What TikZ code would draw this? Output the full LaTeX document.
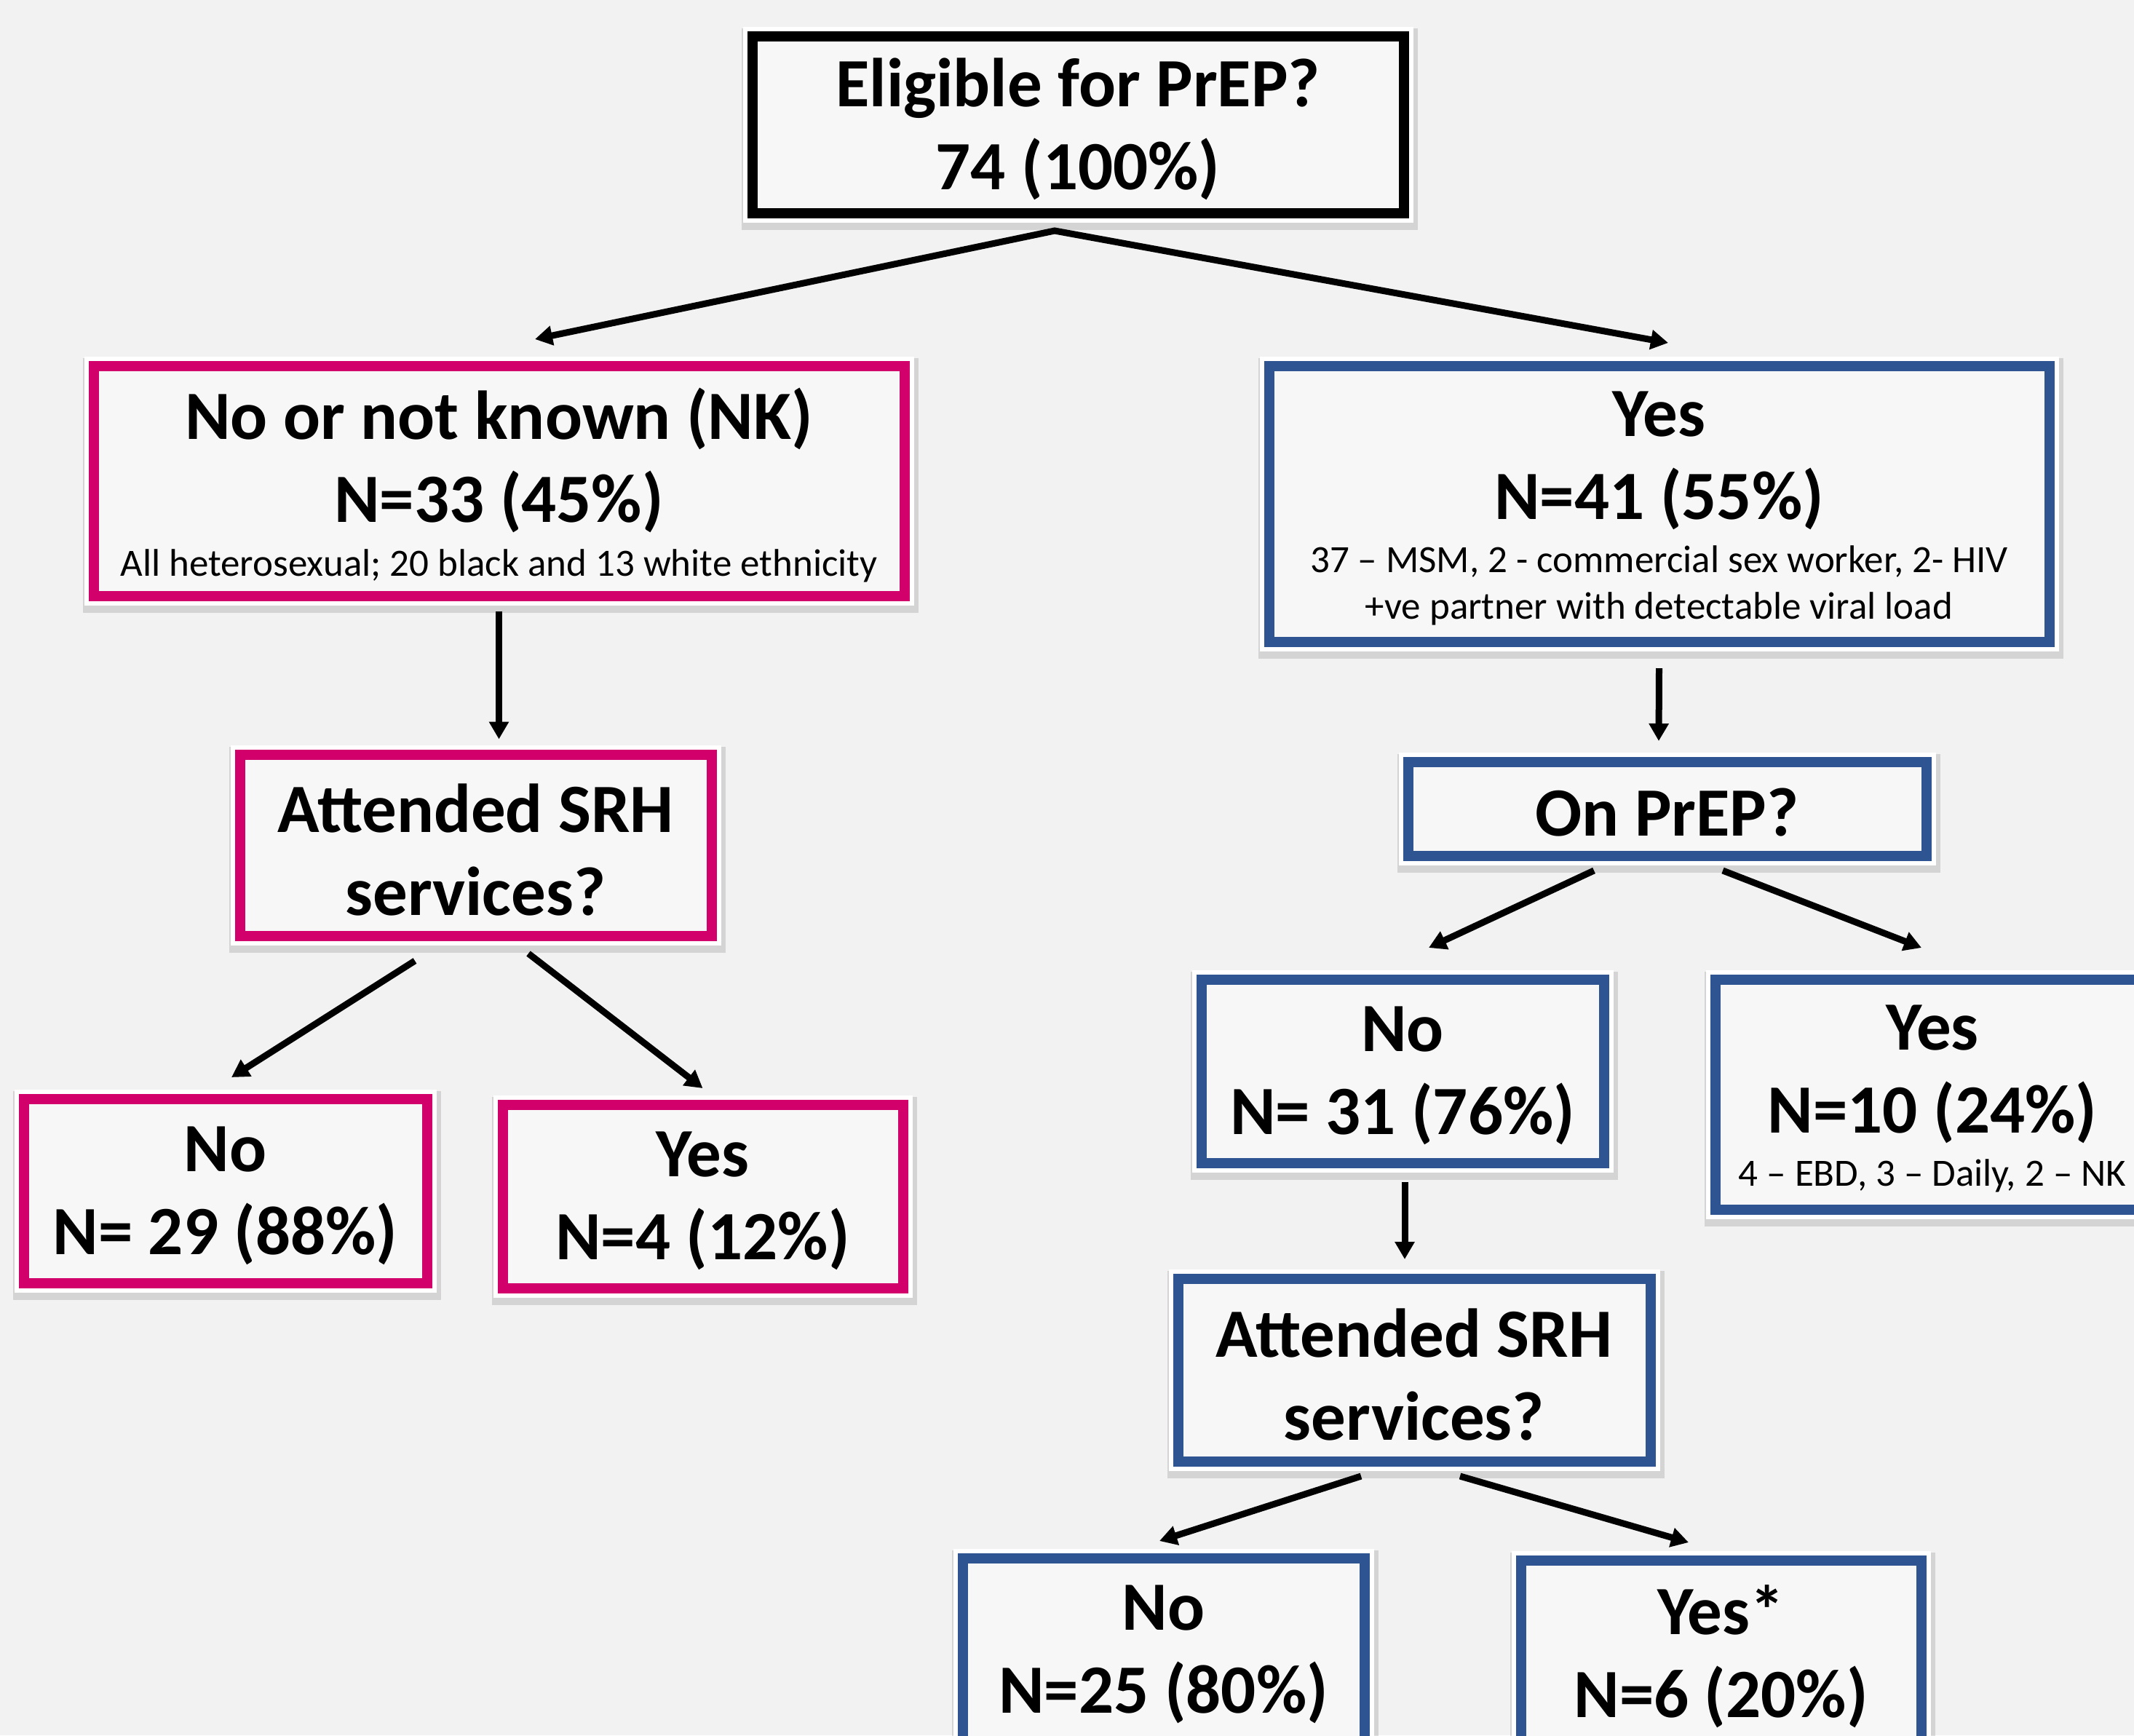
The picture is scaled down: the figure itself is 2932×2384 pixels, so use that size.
\documentclass[tikz,border=0pt]{standalone}
\usepackage{fontspec}
\setmainfont{Carlito}
\usetikzlibrary{arrows.meta,calc}
\definecolor{bg}{HTML}{F2F2F2}
\definecolor{boxfill}{HTML}{F7F7F7}
\definecolor{pinkc}{RGB}{210,0,106}
\definecolor{bluec}{RGB}{46,84,146}
\newcommand\bigtx{\bfseries\fontsize{47.5}{57}\selectfont}
\newcommand\smtx{\mdseries\fontsize{26.5}{32}\selectfont}
\tikzset{
  flowbox/.style={rectangle, draw=#1, line width=7pt, fill=boxfill, inner sep=0pt,
    preaction={draw=black, draw opacity=0.12, line width=17pt,
      transform canvas={shift={(1pt,-3pt)}}},
    preaction={draw=white, line width=13pt}},
  boxtext/.style={inner sep=0pt, align=center, font=\bigtx},
  arr/.style={draw=black, line width=4.5pt, -{Triangle[length=12pt,width=13pt]}},
  arrtwo/.style={draw=black, line width=4.5pt, line join=miter,
    {Triangle[length=12pt,width=13pt]}-{Triangle[length=12pt,width=13pt]}},
}
\begin{document}
\begin{tikzpicture}[x=0.5pt,y=-0.5pt]
\useasboundingbox (0,0) rectangle (2932,2384);
\clip (0,0) rectangle (2932,2384);
\fill[bg] (0,0) rectangle (2932,2384);

% boxes
\node[flowbox=black, minimum width=447.5pt, minimum height=121.5pt] (top) at (1481,171) {};
\node[flowbox=pinkc, minimum width=557pt, minimum height=158pt] (nk) at (685.5,660.5) {};
\node[flowbox=bluec, minimum width=536pt, minimum height=189.5pt] (yes1) at (2279.5,692) {};
\node[flowbox=pinkc, minimum width=324pt, minimum height=124.5pt] (srhL) at (653.5,1161) {};
\node[flowbox=bluec, minimum width=356pt, minimum height=64.5pt] (onprep) at (2290.5,1111) {};
\node[flowbox=pinkc, minimum width=277pt, minimum height=126.5pt] (no29) at (309.5,1636) {};
\node[flowbox=pinkc, minimum width=275pt, minimum height=126pt] (yes4) at (965.5,1643.5) {};
\node[flowbox=bluec, minimum width=276.5pt, minimum height=126pt] (no31) at (1927,1471.5) {};
\node[flowbox=bluec, minimum width=298.5pt, minimum height=158pt] (yes10) at (2655,1503.5) {};
\node[flowbox=bluec, minimum width=324.5pt, minimum height=125.5pt] (srhR) at (1943,1882) {};
\node[flowbox=bluec, minimum width=276pt, minimum height=126.5pt] (no25) at (1598.5,2267) {};
\node[flowbox=bluec, minimum width=275pt, minimum height=126.5pt] (yesS) at (2364.5,2270) {};

% box texts
\node[boxtext] (top-t) at ($(top.center)+(0,6)$) {Eligible for PrEP?\\74 (100\%)};
\node[boxtext] (nk-t) at ($(nk.center)+(0,6)$)
  {No or not known (NK)\\N=33 (45\%)\\[-20.5pt]{\smtx All heterosexual; 20 black and 13 white ethnicity}};
\node[boxtext] (yes1-t) at ($(yes1.center)+(0,6)$)
  {Yes\\N=41 (55\%)\\[-20.5pt]{\smtx 37 – MSM, 2 - commercial sex worker, 2- HIV}\\[-25pt]{\smtx +ve partner with detectable viral load}};
\node[boxtext] (srhL-t) at ($(srhL.center)+(0,6)$) {Attended SRH\\services?};
\node[boxtext] (onprep-t) at ($(onprep.center)+(0,5)$) {On PrEP?};
\node[boxtext] (no29-t) at ($(no29.center)+(0,7)$) {No\\N= 29 (88\%)};
\node[boxtext] (yes4-t) at ($(yes4.center)+(0,6)$) {Yes\\N=4 (12\%)};
\node[boxtext] (no31-t) at ($(no31.center)+(0,6)$) {No\\N= 31 (76\%)};
\node[boxtext] (yes10-t) at ($(yes10.center)+(0,6)$)
  {Yes\\N=10 (24\%)\\[-20.5pt]{\smtx 4 – EBD, 3 – Daily, 2 – NK}};
\node[boxtext] (srhR-t) at ($(srhR.center)+(0,6)$) {Attended SRH\\services?};
\node[boxtext] (no25-t) at ($(no25.center)+(0,6)$) {No\\N=25 (80\%)};
\node[boxtext] (yesS-t) at ($(yesS.center)+(0,6)$) {Yes*\\N=6 (20\%)};

% connector ends
\coordinate (j0) at ($(top.south)+(-32,17.5)$);
\coordinate (t1) at ($(nk.north)+(49.5,-29.5)$);
\coordinate (t2) at ($(yes1.north)+(12.5,-24.5)$);
\coordinate (a3s) at ($(nk.south)+(0,14)$);
\coordinate (a3e) at ($(srhL.north)+(32,-14)$);
\coordinate (a4s) at ($(yes1.south)+(0,29.5)$);
\coordinate (a4e) at ($(onprep.north)+(-11.5,-21.5)$);
\coordinate (a5s) at ($(srhL.south)+(-83.5,27.5)$);
\coordinate (a5e) at ($(no29.north)+(8.5,-22.5)$);
\coordinate (a6s) at ($(srhL.south)+(72.5,17.5)$);
\coordinate (a6e) at ($(yes4.north)+(0,-15.5)$);
\coordinate (a7s) at ($(onprep.south)+(-100.5,13.5)$);
\coordinate (a7e) at ($(no31.north)+(36,-36.5)$);
\coordinate (a8s) at ($(onprep.south)+(76.5,13.5)$);
\coordinate (a8e) at ($(yes10.north)+(-15,-36.5)$);
\coordinate (a9s) at ($(no31.south)+(3,19.5)$);
\coordinate (a9e) at ($(srhR.north)+(-13,-19.5)$);
\coordinate (a10s) at ($(srhR.south)+(-73,13.5)$);
\coordinate (a10e) at ($(no25.north)+(-5.5,-16.5)$);
\coordinate (a11s) at ($(srhR.south)+(63,13.5)$);
\coordinate (a11e) at ($(yesS.north)+(-44.5,-17.5)$);

% connectors
\draw[arrtwo] (t1) -- (j0) -- (t2);
\draw[arr] (a3s) -- (a3e);
\draw[arr] (a4s) -- (a4e);
\draw[arr] (a5s) -- (a5e);
\draw[arr] (a6s) -- (a6e);
\draw[arr] (a7s) -- (a7e);
\draw[arr] (a8s) -- (a8e);
\draw[arr] (a9s) -- (a9e);
\draw[arr] (a10s) -- (a10e);
\draw[arr] (a11s) -- (a11e);
\end{tikzpicture}
\end{document}
